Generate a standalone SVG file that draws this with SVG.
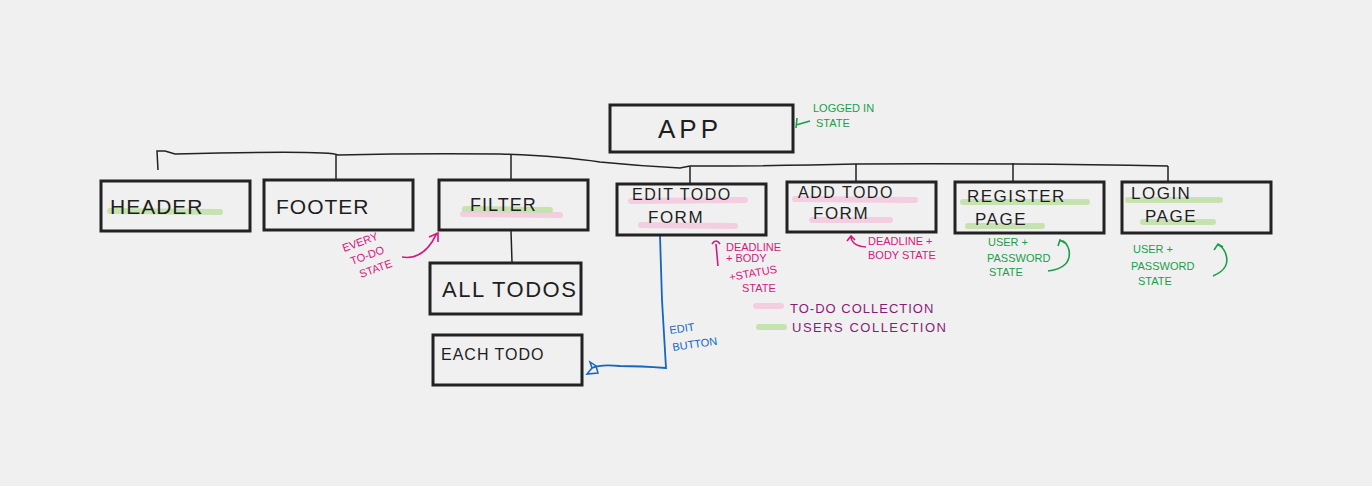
<svg xmlns="http://www.w3.org/2000/svg" width="1372" height="486" viewBox="0 0 1372 486">
<style>
.box{fill:none;stroke:#222;stroke-width:3}
.t{font-family:"Liberation Sans",Arial,sans-serif;fill:#1e1e1e}
.lbl{font-size:21px;letter-spacing:1px}
.hg{stroke:#c6e2b0;stroke-width:6;stroke-linecap:round;fill:none}
.hp{stroke:#f3cde0;stroke-width:6;stroke-linecap:round;fill:none}
.ln{fill:none;stroke:#222;stroke-width:1.5}
.g{fill:#1a9e4b;font-family:"Liberation Sans",Arial,sans-serif;font-size:11px}
.p{fill:#d6187f;font-family:"Liberation Sans",Arial,sans-serif;font-size:11px}
.pu{fill:#8a1c78;font-family:"Liberation Sans",Arial,sans-serif;font-size:13px}
.b{fill:#1466c0;font-family:"Liberation Sans",Arial,sans-serif;font-size:11px}
</style>
<rect width="1372" height="486" fill="#f0f0f0"/>
<g id="connectors">
<path class="ln" d="M158,170 L157,151 L165,151 L175,154 Q330,150 338,155 Q420,153 500,154 Q560,156 600,162 Q640,166 680,168 L690,166 Q780,166 856,164 Q1000,163 1168,166"/>
<path class="ln" d="M336,155 L336,180"/>
<path class="ln" d="M511,155 L511,180"/>
<path class="ln" d="M690,166 L690,184"/>
<path class="ln" d="M856,164 L856,182"/>
<path class="ln" d="M1013,163 L1013,182"/>
<path class="ln" d="M1168,166 L1168,182"/>
<path class="ln" d="M511,231 L512,262"/>
<path d="M660,236 L662,300 L666,368 Q640,366 620,366 Q600,364 592,368" fill="none" stroke="#1466c0" stroke-width="1.8"/>
<path d="M592,368 L587,374 L598,373 L596,366 L590,362 Z" fill="none" stroke="#1466c0" stroke-width="1.5"/>
<path d="M402,257 Q420,260 432,242 L437,233 M429,237 L438,233 L438,242" fill="none" stroke="#d6187f" stroke-width="1.6"/>
<path d="M718,266 L716,244 M712,244 Q716,238 720,244" fill="none" stroke="#d6187f" stroke-width="1.6"/>
<path d="M866,247 Q852,246 851,237 M847,241 L851,236 L855,240" fill="none" stroke="#d6187f" stroke-width="1.6"/>
<path d="M1048,271 Q1072,268 1069,250 Q1066,240 1060,241 M1058,246 L1060,240 L1065,243" fill="none" stroke="#1a9e4b" stroke-width="1.6"/>
<path d="M1213,276 Q1232,268 1225,252 Q1222,246 1218,245 M1214,250 L1218,244 L1223,247" fill="none" stroke="#1a9e4b" stroke-width="1.6"/>
<path d="M796,128 L797,118 M796,125 L810,121" fill="none" stroke="#1a9e4b" stroke-width="1.6"/>
</g>
<g id="legend">
<path class="hp" d="M756,306 L781,306"/>
<path class="hg" d="M759,327 L784,327"/>
<text class="pu" x="790" y="313" letter-spacing="1">TO-DO COLLECTION</text>
<text class="pu" x="792" y="332" letter-spacing="1.5">USERS COLLECTION</text>
</g>
<g id="app">
<rect class="box" x="610" y="105" width="183" height="47"/>
<text class="t" x="658" y="138" font-size="26" letter-spacing="4">APP</text>
<text class="g" x="813" y="112">LOGGED IN</text>
<text class="g" x="816" y="127">STATE</text>
</g>
<g id="header">
<rect class="box" x="101" y="181" width="149" height="50"/>
<path class="hg" d="M110,211 L220,212"/>
<text class="t lbl" x="110" y="214">HEADER</text>
</g>
<g id="footer">
<rect class="box" x="264" y="180" width="149" height="50"/>
<text class="t lbl" x="276" y="214">FOOTER</text>
</g>
<g id="filter">
<rect class="box" x="439" y="180" width="149" height="50"/>
<path class="hp" d="M463,214 L560,215"/>
<path class="hg" d="M465,209 L550,210"/>
<text class="t" x="470" y="211" font-size="18" letter-spacing="1">FILTER</text>
<text class="p" x="344" y="252" transform="rotate(-20 344 252)">EVERY</text>
<text class="p" x="352" y="265" transform="rotate(-20 352 265)">TO-DO</text>
<text class="p" x="361" y="278" transform="rotate(-20 361 278)">STATE</text>
</g>
<g id="edit-todo-form">
<rect class="box" x="617" y="184" width="149" height="51"/>
<path class="hp" d="M631,201 L745,200"/>
<path class="hp" d="M641,225 L735,226"/>
<text class="t" x="632" y="200" font-size="16" letter-spacing="1.5">EDIT TODO</text>
<text class="t" x="648" y="223" font-size="17" letter-spacing="1.5">FORM</text>
<text class="p" x="726" y="251" font-size="10">DEADLINE</text>
<text class="p" x="726" y="262" font-size="10">+ BODY</text>
<text class="p" x="730" y="281" font-size="10" transform="rotate(-10 730 281)">+STATUS</text>
<text class="p" x="742" y="292" font-size="10">STATE</text>
<text class="b" x="670" y="334" transform="rotate(-8 670 334)">EDIT</text>
<text class="b" x="673" y="351" transform="rotate(-8 673 351)">BUTTON</text>
</g>
<g id="add-todo-form">
<rect class="box" x="787" y="182" width="149" height="50"/>
<path class="hp" d="M795,199 L915,200"/>
<path class="hp" d="M812,220 L890,220"/>
<text class="t" x="798" y="198" font-size="16" letter-spacing="1.5">ADD TODO</text>
<text class="t" x="813" y="219" font-size="17" letter-spacing="1.5">FORM</text>
<text class="p" x="868" y="245">DEADLINE +</text>
<text class="p" x="868" y="259">BODY STATE</text>
</g>
<g id="register-page">
<rect class="box" x="955" y="182" width="149" height="51"/>
<path class="hg" d="M963,202 L1087,202"/>
<path class="hg" d="M968,226 L1042,226"/>
<text class="t" x="967" y="202" font-size="17" letter-spacing="1.5">REGISTER</text>
<text class="t" x="975" y="225" font-size="17" letter-spacing="1.5">PAGE</text>
<text class="g" x="988" y="246">USER +</text>
<text class="g" x="987" y="262">PASSWORD</text>
<text class="g" x="989" y="276">STATE</text>
</g>
<g id="login-page">
<rect class="box" x="1122" y="182" width="149" height="51"/>
<path class="hg" d="M1128,200 L1220,200"/>
<path class="hg" d="M1143,222 L1213,222"/>
<text class="t" x="1131" y="199" font-size="17" letter-spacing="1.5">LOGIN</text>
<text class="t" x="1145" y="222" font-size="17" letter-spacing="1.5">PAGE</text>
<text class="g" x="1133" y="253" font-size="12">USER +</text>
<text class="g" x="1131" y="270" font-size="12">PASSWORD</text>
<text class="g" x="1138" y="285" font-size="12">STATE</text>
</g>
<g id="all-todos">
<rect class="box" x="430" y="263" width="151" height="51"/>
<text class="t" x="442" y="297" font-size="22" letter-spacing="1.5">ALL TODOS</text>
</g>
<g id="each-todo">
<rect class="box" x="433" y="335" width="149" height="50"/>
<text class="t" x="441" y="360" font-size="16" letter-spacing="1">EACH TODO</text>
</g>
</svg>
